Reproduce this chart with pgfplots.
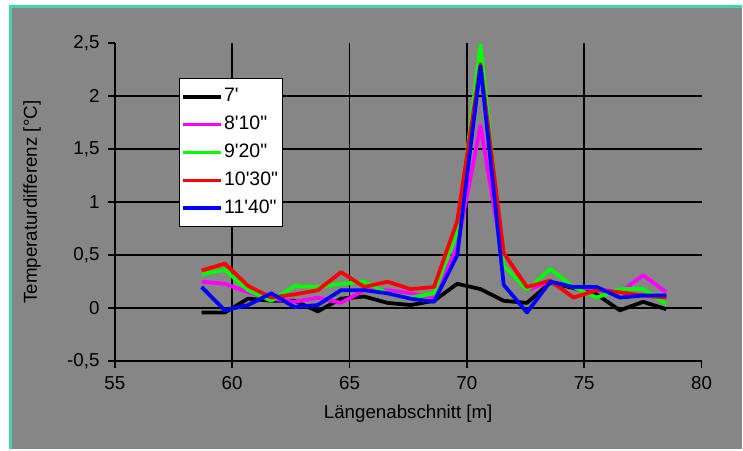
\documentclass[border=0pt]{standalone}
\usepackage{fontspec}
\setmainfont{Liberation Sans}
\usepackage{pgfplots}
\pgfplotsset{compat=1.18}
\definecolor{bg}{RGB}{134,134,134}
\definecolor{rim}{RGB}{64,214,170}
\definecolor{mag}{RGB}{255,0,255}
\definecolor{grn}{RGB}{0,255,0}
\newcommand{\mn}{\textquotesingle}
\newcommand{\sk}{\textquotedbl}

\begin{document}
\begin{tikzpicture}
% chart area, 1 px of the reference = 0.4pt
\begin{scope}[x=0.4pt,y=0.4pt]
\fill[white] (-115,-88) rectangle (628,362);
\fill[bg] (-104,-88) rectangle (628,355);
\draw[rim,line width=1.2pt] (-104,-88) -- (-104,355) -- (628,355);
\end{scope}
\begin{axis}[at={(0,0)},anchor=south west,scale only axis,
  width=235.2pt,height=127.6pt,
  xmin=55,xmax=80,ymin=-0.5,ymax=2.5,
  axis lines=left,axis line style={-,black,line width=0.7pt},
  xtick={55,60,...,80},ytick={-0.5,0,...,2.5},
  tick align=outside,major tick length=2.6pt,
  tick style={black,line width=0.7pt},
  extra x ticks={60,65,70,75},extra x tick labels={},
  extra x tick style={grid=major,major tick length=0pt},
  extra y ticks={0,0.5,1,1.5,2},extra y tick labels={},
  extra y tick style={grid=major,major tick length=0pt},
  grid style={black,line width=0.7pt},
  /pgf/number format/.cd,use comma,assume math mode=true,/pgfplots/.cd,
  tick label style={font=\fontsize{7.5}{8}\selectfont},
  label style={font=\fontsize{7.5}{8}\selectfont},
  xlabel={Längenabschnitt [m]},
  ylabel={Temperaturdifferenz [°C]},
  xlabel style={at={(axis description cs:0.5,-0.166)},anchor=center},
  ylabel style={at={(axis description cs:-0.141,0.5)},anchor=center},
  legend style={at={(axis description cs:0.109,0.89)},anchor=north west,
    draw=black,fill=white,font=\fontsize{7.8}{8.5}\selectfont,
    inner xsep=1pt,inner ysep=2pt,row sep=0.2pt,
    nodes={inner xsep=0.6pt}},
  legend cell align=left,
  legend image code/.code={\draw[#1,line width=1.4pt] (0,0) -- (15pt,0);},
  every axis plot/.append style={line width=1.5pt,line join=round},
]
\addplot[black] coordinates {
(58.70,-0.04) (59.69,-0.04) (60.68,0.09) (61.67,0.07) (62.66,0.07) (63.65,-0.03)
(64.64,0.09) (65.63,0.11) (66.62,0.05) (67.61,0.03) (68.60,0.07) (69.59,0.23)
(70.58,0.18) (71.57,0.07) (72.56,0.05) (73.55,0.24) (74.54,0.19) (75.53,0.13)
(76.52,-0.02) (77.51,0.06) (78.50,-0.01)};
\addplot[mag] coordinates {
(58.70,0.25) (59.69,0.23) (60.68,0.15) (61.67,0.09) (62.66,0.06) (63.65,0.10)
(64.64,0.05) (65.63,0.17) (66.62,0.17) (67.61,0.14) (68.60,0.10) (69.59,0.58)
(70.58,1.72) (71.57,0.40) (72.56,0.17) (73.55,0.25) (74.54,0.20) (75.53,0.18)
(76.52,0.15) (77.51,0.31) (78.50,0.15)};
\addplot[grn] coordinates {
(58.70,0.32) (59.69,0.36) (60.68,0.17) (61.67,0.07) (62.66,0.21) (63.65,0.20)
(64.64,0.23) (65.63,0.25) (66.62,0.14) (67.61,0.10) (68.60,0.14) (69.59,0.72)
(70.58,2.48) (71.57,0.40) (72.56,0.17) (73.55,0.37) (74.54,0.20) (75.53,0.10)
(76.52,0.18) (77.51,0.18) (78.50,0.04)};
\addplot[red] coordinates {
(58.70,0.355) (59.69,0.42) (60.68,0.21) (61.67,0.10) (62.66,0.13) (63.65,0.17)
(64.64,0.34) (65.63,0.20) (66.62,0.25) (67.61,0.18) (68.60,0.20) (69.59,0.82)
(70.58,2.30) (71.57,0.52) (72.56,0.20) (73.55,0.26) (74.54,0.10) (75.53,0.17)
(76.52,0.15) (77.51,0.12) (78.50,0.10)};
\addplot[blue] coordinates {
(58.70,0.20) (59.69,-0.02) (60.68,0.03) (61.67,0.14) (62.66,0.01) (63.65,0.03)
(64.64,0.17) (65.63,0.17) (66.62,0.14) (67.61,0.09) (68.60,0.06) (69.59,0.50)
(70.58,2.28) (71.57,0.22) (72.56,-0.04) (73.55,0.25) (74.54,0.20) (75.53,0.20)
(76.52,0.10) (77.51,0.12) (78.50,0.12)};
\legend{7\mn,8\mn10\sk,9\mn20\sk,10\mn30\sk,11\mn40\sk}
\end{axis}
\end{tikzpicture}
\end{document}
